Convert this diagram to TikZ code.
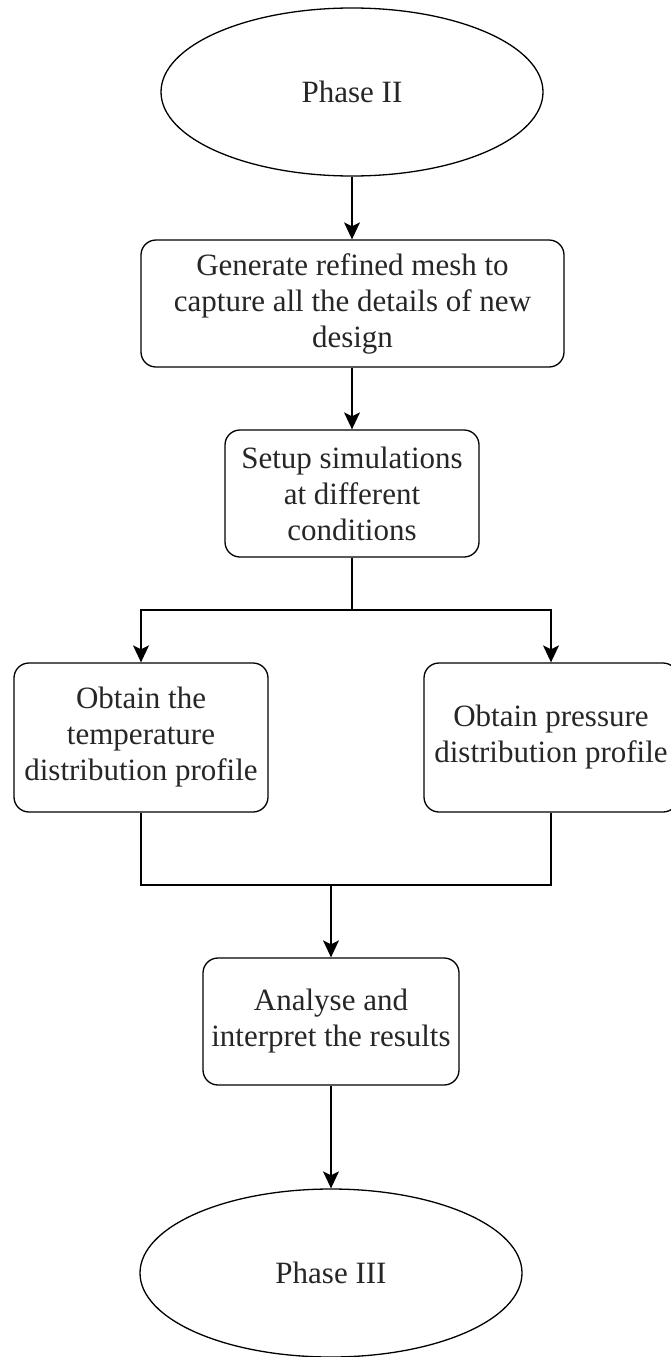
\documentclass[tikz,border=0pt]{standalone}
\usepackage{fontspec}
\setmainfont{Liberation Serif}
\usetikzlibrary{shapes.geometric,arrows.meta}
\tikzset{
  base/.style={draw=black, line width=1.3pt, inner sep=0pt, align=center,
    font=\fontsize{31}{36}\selectfont, text=black!85},
  procbox/.style={base, rectangle, rounded corners=15pt},
  term/.style={base, ellipse, minimum width=382pt, minimum height=168pt},
  conn/.style={draw=black, line width=1.3pt},
  arr/.style={conn, -{Stealth[length=17pt,width=16pt,inset=4pt]}}
}
\begin{document}
\begin{tikzpicture}[x=1pt,y=-1pt]
\useasboundingbox (0,0) rectangle (670,1357);
\node[term] (e1) at (352,92) {Phase II};
\node[procbox, minimum width=423pt, minimum height=127pt] (b1) at (352.5,303.5)
  {Generate refined mesh to\\capture all the details of new\\design};
\node[procbox, minimum width=254pt, minimum height=127pt] (b2) at (352,493.5)
  {Setup simulations\\at different\\conditions};
\node[procbox, minimum width=254pt, minimum height=149pt] (b3) at (141,737.5)
  {Obtain the\\temperature\\distribution profile};
\node[procbox, minimum width=254pt, minimum height=149pt] (b4) at (551,737.5)
  {Obtain pressure\\distribution profile};
\node[procbox, minimum width=256pt, minimum height=127pt] (b5) at (331,1021.5)
  {Analyse and\\interpret the results};
\node[term] (e2) at (331,1273) {Phase III};
\coordinate (sp) at (352,610);
\coordinate (jn) at (331,885);
\draw[arr] (e1.south) -- (e1.south |- b1.north);
\draw[arr] (b1.south -| b2.north) -- (b2.north);
\draw[conn] (b2.south) -- (sp);
\draw[arr] (sp) -| (b3.north);
\draw[arr] (sp) -| (b4.north);
\draw[conn] (b3.south) |- (jn);
\draw[conn] (b4.south) |- (jn);
\draw[arr] (jn) -- (b5.north);
\draw[arr] (b5.south) -- (e2.north);
\end{tikzpicture}
\end{document}
